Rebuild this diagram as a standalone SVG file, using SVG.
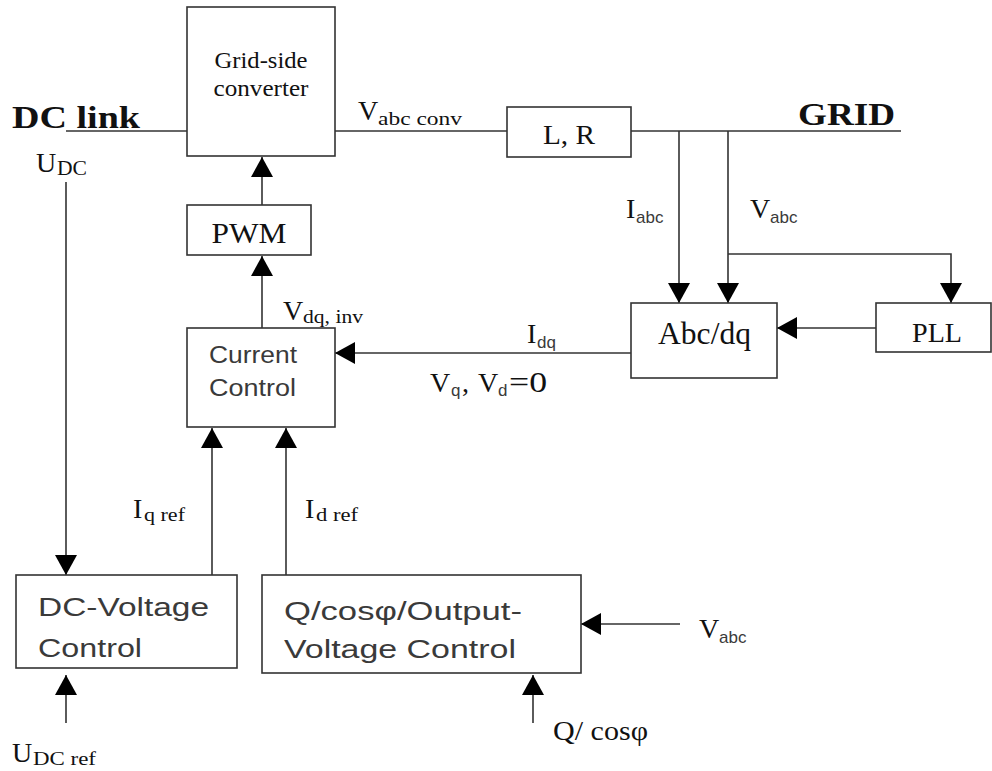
<svg xmlns="http://www.w3.org/2000/svg" width="992" height="771" viewBox="0 0 992 771">
<style>
.box{fill:#fff;stroke:#333;stroke-width:1.6}
.ln{fill:none;stroke:#333;stroke-width:1.6}
.ar{marker-end:url(#ah)}
.t{font-family:"Liberation Serif","Times New Roman",serif;fill:#111}
.s{font-family:"Liberation Sans",Arial,sans-serif;fill:#3a3a3a}
.b{font-weight:bold}
</style>
<defs>
<marker id="ah" viewBox="0 0 20 22" refX="20" refY="11" markerWidth="20" markerHeight="22" markerUnits="userSpaceOnUse" orient="auto">
<path d="M0,0 L20,11 L0,22 z" fill="#000"/>
</marker>
</defs>
<rect width="992" height="771" fill="#fff"/>
<g id="connectors">
<path class="ln" d="M66,131 H187"/>
<path class="ln" d="M335,131 H507"/>
<path class="ln" d="M631,131 H901"/>
<path class="ln ar" d="M679,131 V303"/>
<path class="ln ar" d="M728,131 V303"/>
<path class="ln ar" d="M728,254 H951 V303"/>
<path class="ln ar" d="M876,328 H777"/>
<path class="ln ar" d="M631,353 H335"/>
<path class="ln ar" d="M262,328 V256"/>
<path class="ln ar" d="M262,205 V157"/>
<path class="ln ar" d="M66,182 V575"/>
<path class="ln ar" d="M212,575 V428"/>
<path class="ln ar" d="M286,575 V428"/>
<path class="ln ar" d="M66,723 V675"/>
<path class="ln ar" d="M533,723 V675"/>
<path class="ln ar" d="M680,624 H581"/>
</g>
<g id="labels">
<text class="t b" x="12" y="128" font-size="31" textLength="128" lengthAdjust="spacingAndGlyphs">DC link</text>
<text class="t b" x="798" y="125" font-size="32" textLength="97" lengthAdjust="spacingAndGlyphs">GRID</text>
<text class="t" x="36" y="172" font-size="28">U</text><text class="t" x="57" y="175" font-size="20" textLength="30" lengthAdjust="spacingAndGlyphs">DC</text>
<text class="t" x="358" y="120" font-size="28">V</text><text class="t" x="378" y="125" font-size="18" textLength="84" lengthAdjust="spacingAndGlyphs">abc  conv</text>
<text class="t" x="626" y="218" font-size="28">I</text><text class="s" x="636" y="223" font-size="17">abc</text>
<text class="t" x="750" y="218" font-size="28">V</text><text class="s" x="770" y="223" font-size="17">abc</text>
<text class="t" x="283" y="320" font-size="28">V</text><text class="t" x="303" y="323" font-size="18" textLength="60" lengthAdjust="spacingAndGlyphs">dq, inv</text>
<text class="t" x="527" y="343" font-size="28">I</text><text class="s" x="537" y="348" font-size="17">dq</text>
<text class="t" x="430" y="392" font-size="28">V</text><text class="s" x="451" y="396" font-size="17">q</text><text class="t" x="462" y="392" font-size="28">,</text><text class="t" x="478" y="392" font-size="28">V</text><text class="s" x="498" y="396" font-size="17">d</text><text class="t" x="509" y="392" font-size="30" textLength="38" lengthAdjust="spacingAndGlyphs">=0</text>
<text class="t" x="133" y="518" font-size="28">I</text><text class="t" x="144" y="521" font-size="19" textLength="41" lengthAdjust="spacingAndGlyphs">q ref</text>
<text class="t" x="305" y="518" font-size="28">I</text><text class="t" x="316" y="521" font-size="19" textLength="42" lengthAdjust="spacingAndGlyphs">d ref</text>
<text class="t" x="699" y="638" font-size="28">V</text><text class="s" x="719" y="643" font-size="17">abc</text>
<text class="t" x="553" y="740" font-size="28" textLength="95" lengthAdjust="spacingAndGlyphs">Q/ cosφ</text>
<text class="t" x="12" y="762" font-size="28">U</text><text class="t" x="33" y="765" font-size="19" textLength="63" lengthAdjust="spacingAndGlyphs">DC ref</text>
</g>
<g id="converter">
<rect class="box" x="187" y="7" width="148" height="149"/>
<text class="t" x="261" y="68" font-size="23" text-anchor="middle" fill="#333" textLength="93" lengthAdjust="spacingAndGlyphs">Grid-side</text>
<text class="t" x="261" y="96" font-size="23" text-anchor="middle" fill="#333" textLength="95" lengthAdjust="spacingAndGlyphs">converter</text>
</g>
<g id="lr">
<rect class="box" x="507" y="107" width="124" height="50"/>
<text class="t" x="569" y="144" font-size="28" text-anchor="middle" textLength="52" lengthAdjust="spacingAndGlyphs">L, R</text>
</g>
<g id="pwm">
<rect class="box" x="187" y="205" width="124" height="50"/>
<text class="t" x="249" y="243" font-size="29" text-anchor="middle" textLength="75" lengthAdjust="spacingAndGlyphs">PWM</text>
</g>
<g id="current-control">
<rect class="box" x="187" y="328" width="148" height="99"/>
<text class="s" x="209" y="363" font-size="23" textLength="88" lengthAdjust="spacingAndGlyphs">Current</text>
<text class="s" x="209" y="396" font-size="23" textLength="87" lengthAdjust="spacingAndGlyphs">Control</text>
</g>
<g id="abcdq">
<rect class="box" x="631" y="303" width="146" height="75"/>
<text class="t" x="658" y="344" font-size="31" textLength="93" lengthAdjust="spacingAndGlyphs">Abc/dq</text>
</g>
<g id="pll">
<rect class="box" x="876" y="303" width="115" height="49"/>
<text class="t" x="912" y="342" font-size="28" textLength="50" lengthAdjust="spacingAndGlyphs">PLL</text>
</g>
<g id="dc-voltage-control">
<rect class="box" x="16" y="575" width="221" height="93"/>
<text class="s" x="38" y="616" font-size="25" textLength="171" lengthAdjust="spacingAndGlyphs">DC-Voltage</text>
<text class="s" x="38" y="657" font-size="25" textLength="104" lengthAdjust="spacingAndGlyphs">Control</text>
</g>
<g id="q-control">
<rect class="box" x="262" y="575" width="319" height="98"/>
<text class="s" x="284" y="620" font-size="25" textLength="238" lengthAdjust="spacingAndGlyphs">Q/cosφ/Output-</text>
<text class="s" x="284" y="658" font-size="25" textLength="232" lengthAdjust="spacingAndGlyphs">Voltage Control</text>
</g>
</svg>
